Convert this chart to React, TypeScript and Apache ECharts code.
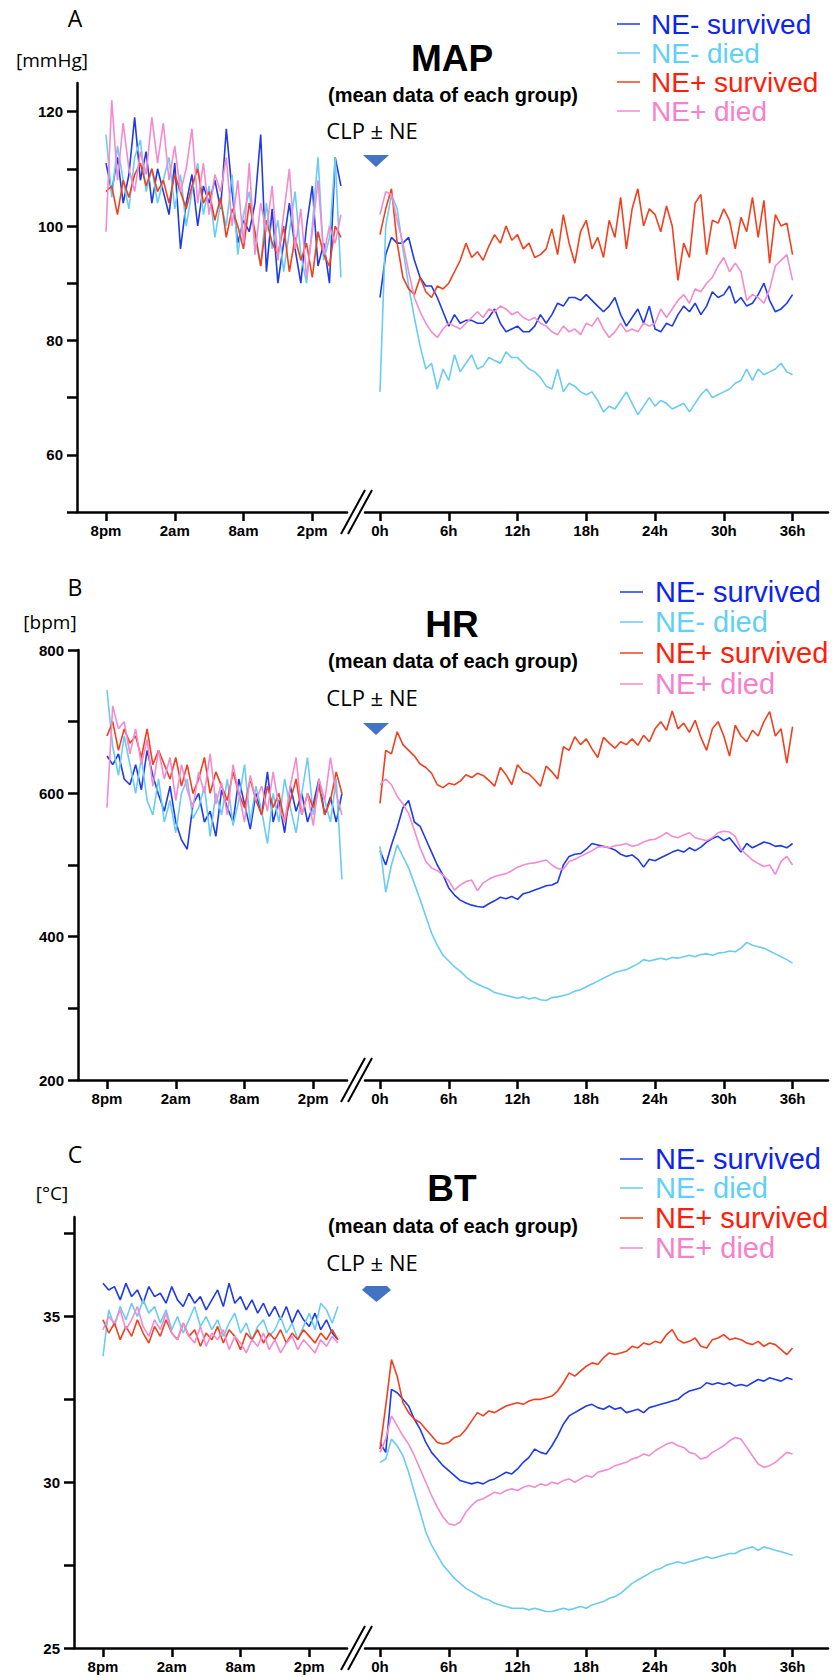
import React, { useEffect, useRef } from "react";
import * as echarts from "echarts";

// ---------- DATA ----------
const SERIES_NAMES = ["NE- survived", "NE- died", "NE+ survived", "NE+ died"];
const STEP_H = 0.5;
const BASE_TICKS = [0, 6, 12, 18];
const BASE_LABELS = ["8pm", "2am", "8am", "2pm"];
const POST_TICKS = [0, 6, 12, 18, 24, 30, 36];
const POST_LABELS = ["0h", "6h", "12h", "18h", "24h", "30h", "36h"];

// MAP (mmHg)
const mapBaseBlue = [111,106,112,104,109,119,108,113,104,110,106,102,111,96,104,109,100,107,104,108,103,117,106,97,101,99,104,116,92,103,90,97,104,96,90,100,107,93,97,90,112,107];
const mapBaseCyan = [116,105,114,108,103,112,115,106,110,104,108,112,103,109,100,106,111,102,107,98,104,100,109,95,102,106,98,93,104,96,101,92,99,106,95,90,100,112,94,98,112,91];
const mapBaseRed = [106,107,102,108,105,109,111,107,110,106,108,104,109,106,103,107,110,104,106,101,105,98,103,100,96,104,99,93,101,97,95,100,92,98,94,97,91,99,95,93,100,98];
const mapBasePink = [99,122,108,118,110,106,113,109,119,111,118,108,114,106,110,117,104,111,102,109,106,112,100,108,97,111,95,104,99,107,94,102,110,96,103,91,99,108,95,100,97,102];
const mapPostBlue = [87.5,95,98,97,97,98,94,91,89.5,89.5,87.5,85,82.5,84.5,83,83.5,83.5,83,83,84,85.5,83,81.5,82,82.5,81.5,81.5,82.5,84.5,83,84.5,86.5,86,87.5,87.5,87,88,87,86,85,86,87.5,84.5,82.5,84,85.5,83,86,82,81.5,83,82.5,84.5,86,85,86.5,84.5,86,88.5,87.5,88,89.5,86.5,87.5,86,86.5,88,90,87,85,85.5,86.5,88];
const mapPostCyan = [71,100,105.5,103,96,89.5,84,79,75,76,71.5,75,73,77.5,74.5,76,77.5,75,75.5,77,76.5,76,78,77,77,76,75,74.5,73.5,72,71.5,75,71,72.5,72,71,70.5,71,69.5,67.5,68.5,68,69.5,71,69,67,68.5,70,68.5,69.5,69,68,68.5,69,67.5,69,70.5,71.5,70,70.5,71,71.5,72.5,73,75,73,75,74,74.5,75,76,74.5,74];
const mapPostRed = [98.5,103,106.5,97,91,89,88,91,88.5,87.5,89.5,89,90,92,94,97,94.5,95.5,94,96.5,98.5,97,100,97.5,98.5,96,97,94.5,95,96,99.5,95,102,97,93.5,99,101,96,98,94.5,101,98,105,96,103,106.5,100,103,102,99,103.5,100,90.5,97,94.5,104,105.5,95,101,100.5,103,101,96,101.5,99,105,98,104.5,93.5,102,100,100.5,95];
const mapPostPink = [102,106,105.5,101,97,92,87.5,85,83,81.5,80.5,82,83,82.5,82,83,84,85,84,85.5,85,86,85.5,84.5,85,84,83.5,84,83,82.5,81.5,81,82.5,81.5,82,81,83,82.5,84,82,80.5,81.5,83,81.5,82,81.5,83,82.5,83,85.5,84,85.5,87,88,86.5,89,88.5,90,91,93,94.5,92,93.5,92,87,88,87.5,86.5,89,93,94,95,90.5];

// HR (bpm)
const hrBaseBlue = [652,640,655,620,612,640,605,660,625,598,575,610,560,535,522,585,600,560,575,540,605,580,560,620,585,550,600,570,630,560,590,545,610,575,600,560,585,620,570,595,560,600];
const hrBaseCyan = [744,665,625,680,640,600,650,590,570,620,560,590,545,600,620,565,580,610,540,600,570,620,555,590,640,560,610,575,530,600,560,620,580,545,600,650,570,610,590,560,620,480];
const hrBaseRed = [680,700,660,690,670,680,650,690,640,660,640,620,650,610,640,600,620,650,600,630,610,590,630,600,580,620,590,570,610,580,600,560,590,620,570,600,580,610,570,590,630,600];
const hrBasePink = [580,722,690,700,655,690,640,675,610,660,620,650,590,640,605,580,630,600,655,585,615,570,640,600,560,625,590,610,575,630,580,560,610,650,570,600,555,620,590,650,600,570];
const hrPostBlue = [520,500,528,552,580,590,560,554,536,518,500,486,468,458,451,447,444,442,441,446,450,455,453,456,452,460,462,465,468,471,472,476,500,512,515,516,522,530,528,526,524,521,515,512,514,508,497,508,506,510,514,518,521,518,524,520,525,532,537,540,534,538,528,518,530,524,528,532,530,526,527,524,530];
const hrPostCyan = [526,462,500,528,512,496,474,452,428,405,388,374,366,358,352,344,338,334,330,327,322,320,318,316,314,316,313,315,312,311,315,316,318,320,324,326,330,334,338,342,346,350,352,354,358,362,368,366,368,370,368,371,370,372,374,372,375,376,374,377,378,380,379,384,392,388,386,384,380,376,372,368,363];
const hrPostRed = [586,660,655,686,668,660,652,641,636,628,612,608,614,612,617,626,622,628,625,618,610,636,626,612,640,630,627,619,610,638,630,620,665,660,679,668,676,662,650,678,670,663,672,668,676,667,681,672,690,700,688,715,690,698,685,702,678,660,690,700,680,652,695,680,672,688,680,700,714,680,690,642,693];
const hrPostPink = [612,620,612,596,585,572,548,524,505,496,492,486,478,465,472,477,479,464,475,480,484,486,488,492,497,500,502,503,505,507,500,495,494,505,508,512,516,520,525,526,524,527,528,530,526,528,532,535,536,540,545,540,538,542,545,538,536,534,538,545,547,546,540,522,514,507,502,498,500,487,505,512,500];

// BT (°C)
const btBaseBlue = [36.0,35.8,35.9,35.5,36.0,35.6,35.8,35.4,35.9,35.6,35.7,35.4,35.9,35.5,35.3,35.7,35.4,35.6,35.2,35.5,35.8,35.3,36.0,35.4,35.6,35.2,35.5,35.1,35.4,35.0,35.3,34.9,35.3,34.8,35.2,34.9,34.7,35.1,34.6,34.9,34.5,34.3];
const btBaseCyan = [33.8,35.2,34.7,35.3,34.9,35.4,35.0,35.5,35.1,35.3,34.8,35.2,34.6,35.0,34.5,34.9,35.3,34.7,35.0,34.6,34.9,34.4,34.8,35.1,34.5,34.8,34.3,34.7,34.9,34.4,34.6,35.0,34.5,34.8,34.3,34.7,35.1,34.6,35.4,35.2,34.8,35.3];
const btBaseRed = [34.9,34.5,34.8,34.3,34.7,34.4,34.9,34.5,34.2,34.7,34.4,34.9,34.5,34.3,34.8,34.4,34.6,34.1,34.5,34.3,34.7,34.2,34.6,34.4,34.0,34.5,34.3,34.6,34.2,34.5,34.3,34.6,34.2,34.5,34.3,34.6,34.4,34.2,34.5,34.3,34.6,34.3];
const btBasePink = [34.6,35.0,34.8,35.2,34.6,34.9,35.3,34.7,34.4,34.9,34.6,35.1,34.5,34.3,34.8,34.4,34.2,34.7,34.1,34.5,34.3,34.6,34.0,34.4,34.2,33.9,34.3,34.1,34.5,34.0,34.3,33.9,34.2,34.4,34.0,34.3,34.1,33.9,34.3,34.1,34.4,34.2];
const btPostBlue = [31.2,30.9,32.8,32.7,32.5,32.3,31.9,31.6,31.2,30.9,30.7,30.5,30.35,30.2,30.05,30.0,29.95,30.0,29.95,30.05,30.1,30.2,30.3,30.25,30.4,30.6,30.75,31.0,30.9,30.85,31.1,31.4,31.75,32.0,32.1,32.2,32.3,32.35,32.25,32.2,32.3,32.2,32.25,32.1,32.15,32.2,32.1,32.25,32.3,32.35,32.4,32.45,32.5,32.65,32.75,32.8,32.85,33.0,32.95,33.0,32.95,33.0,32.9,32.95,32.9,33.0,33.1,33.05,33.15,33.1,33.05,33.15,33.1];
const btPostCyan = [30.6,30.7,31.3,31.1,30.8,30.3,29.7,29.1,28.5,28.1,27.8,27.5,27.3,27.1,26.95,26.8,26.7,26.6,26.5,26.45,26.35,26.3,26.25,26.2,26.2,26.2,26.15,26.2,26.15,26.1,26.1,26.15,26.2,26.15,26.2,26.25,26.2,26.3,26.35,26.4,26.5,26.55,26.65,26.8,26.95,27.05,27.15,27.25,27.35,27.4,27.5,27.55,27.6,27.55,27.6,27.65,27.7,27.75,27.7,27.75,27.8,27.85,27.85,27.95,28.0,28.05,27.95,28.05,28.0,27.95,27.9,27.85,27.8];
const btPostRed = [31.0,32.3,33.7,33.2,32.4,32.1,31.9,31.8,31.6,31.4,31.2,31.15,31.2,31.35,31.4,31.6,31.85,32.1,32.0,32.15,32.1,32.2,32.3,32.35,32.4,32.35,32.45,32.5,32.5,32.55,32.6,32.75,33.0,33.3,33.2,33.35,33.5,33.6,33.55,33.75,33.9,33.85,33.9,33.95,34.1,34.05,34.2,34.15,34.25,34.2,34.45,34.6,34.3,34.2,34.25,34.35,34.1,34.05,34.3,34.35,34.45,34.3,34.35,34.3,34.2,34.15,34.25,34.1,34.2,34.15,34.0,33.85,34.05];
const btPostPink = [30.9,31.3,32.0,31.7,31.4,31.15,30.8,30.4,30.0,29.6,29.25,28.95,28.75,28.7,28.8,29.1,29.3,29.45,29.5,29.6,29.7,29.65,29.75,29.8,29.75,29.85,29.9,29.85,29.95,29.9,30.0,29.95,30.05,30.1,30.0,30.1,30.2,30.15,30.3,30.35,30.4,30.5,30.55,30.6,30.7,30.75,30.85,30.8,30.95,31.05,31.15,31.2,31.1,31.05,30.9,30.85,30.7,30.75,30.9,31.0,31.1,31.25,31.35,31.3,31.05,30.8,30.55,30.45,30.5,30.6,30.75,30.9,30.85];

// ---------- STYLE / LAYOUT ----------
const LINE_COLORS = ["#1f3be6", "#6accf3", "#f2401e", "#f48ad0"];
const TEXT_COLORS = ["#0d24f0", "#5fd0f8", "#ff1e0a", "#f87fcc"];
const K = 11.46; // px per hour
const LEFT_END = 347;
const RIGHT_START = 365;
const RIGHT_END = 828;
const ZERO_X = 380;

const panels = [
  {
    letter: "A", title: "MAP", unit: "[mmHg]", axisX: 77, top: 83, bottom: 512,
    yMin: 50, yMax: 125, yTicks: [50, 60, 70, 80, 90, 100, 110, 120], yLabels: [60, 80, 100, 120],
    base: [mapBaseBlue, mapBaseCyan, mapBaseRed, mapBasePink],
    post: [mapPostBlue, mapPostCyan, mapPostRed, mapPostPink],
    letterY: 18, unitY: 60, unitX: 52, titleY: 58, meanY: 95, clpY: 130, triY: 155, bigTri: false,
    legendY: [24, 53, 82, 111], legendLineX: 617, legendTextX: 651, legendFont: 28,
  },
  {
    letter: "B", title: "HR", unit: "[bpm]", axisX: 78, top: 650, bottom: 1080,
    yMin: 200, yMax: 800, yTicks: [200, 300, 400, 500, 600, 700, 800], yLabels: [200, 400, 600, 800],
    base: [hrBaseBlue, hrBaseCyan, hrBaseRed, hrBasePink],
    post: [hrPostBlue, hrPostCyan, hrPostRed, hrPostPink],
    letterY: 587, unitY: 622, unitX: 50, titleY: 624, meanY: 661, clpY: 697, triY: 723, bigTri: false,
    legendY: [592, 622, 653, 684], legendLineX: 620, legendTextX: 655, legendFont: 29,
  },
  {
    letter: "C", title: "BT", unit: "[°C]", axisX: 74, top: 1217, bottom: 1648,
    yMin: 25, yMax: 38, yTicks: [25, 27.5, 30, 32.5, 35, 37.5], yLabels: [25, 30, 35],
    base: [btBaseBlue, btBaseCyan, btBaseRed, btBasePink],
    post: [btPostBlue, btPostCyan, btPostRed, btPostPink],
    letterY: 1154, unitY: 1193, unitX: 52, titleY: 1188, meanY: 1226, clpY: 1262, triY: 1287, bigTri: true,
    legendY: [1159, 1188, 1218, 1248], legendLineX: 620, legendTextX: 655, legendFont: 29,
  },
];

const ARIAL = '"Liberation Sans", Arial, Helvetica, sans-serif';
const CALIBRI = '"Open Sans", "Noto Sans", sans-serif';

function buildOption() {
  const grid: any[] = [];
  const xAxis: any[] = [];
  const yAxis: any[] = [];
  const series: any[] = [];
  const graphic: any[] = [];

  const axisLineStyle = { color: "#000", width: 2.5 };
  const labelStyle = { color: "#000", fontWeight: "bold", fontSize: 15, fontFamily: ARIAL };
  const centered = { align: "center", verticalAlign: "middle", textAlign: "center", textVerticalAlign: "middle" };

  panels.forEach((p, pi) => {
    const x0 = p.axisX + 29; // position of 8pm
    const h = p.bottom - p.top;
    const gL = pi * 2;
    const gR = pi * 2 + 1;
    grid.push({ left: p.axisX, top: p.top, width: LEFT_END - p.axisX, height: h });
    grid.push({ left: RIGHT_START, top: p.top, width: RIGHT_END - RIGHT_START, height: h });

    xAxis.push({
      type: "value", gridIndex: gL,
      min: (p.axisX - x0) / K, max: (LEFT_END - x0) / K,
      axisLine: { show: true, onZero: false, lineStyle: axisLineStyle },
      axisTick: { show: true, length: 9, lineStyle: axisLineStyle, customValues: BASE_TICKS },
      axisLabel: {
        ...labelStyle, margin: 11, customValues: BASE_TICKS,
        formatter: (v: number) => BASE_LABELS[BASE_TICKS.indexOf(Math.round(v))] ?? "",
      },
      splitLine: { show: false },
    });
    xAxis.push({
      type: "value", gridIndex: gR,
      min: (RIGHT_START - ZERO_X) / K, max: (RIGHT_END - ZERO_X) / K,
      axisLine: { show: true, onZero: false, lineStyle: axisLineStyle },
      axisTick: { show: true, length: 9, lineStyle: axisLineStyle, customValues: POST_TICKS },
      axisLabel: {
        ...labelStyle, margin: 11, customValues: POST_TICKS,
        formatter: (v: number) => POST_LABELS[POST_TICKS.indexOf(Math.round(v))] ?? "",
      },
      splitLine: { show: false },
    });

    yAxis.push({
      type: "value", gridIndex: gL, min: p.yMin, max: p.yMax,
      axisLine: { show: true, onZero: false, lineStyle: axisLineStyle },
      axisTick: { show: true, length: 10, lineStyle: axisLineStyle, customValues: p.yTicks },
      axisLabel: {
        ...labelStyle, margin: 14, customValues: p.yLabels,
        formatter: (v: number) => String(v),
      },
      splitLine: { show: false },
    });
    yAxis.push({ type: "value", gridIndex: gR, min: p.yMin, max: p.yMax, show: false, splitLine: { show: false } });

    SERIES_NAMES.forEach((name, si) => {
      const common = {
        type: "line", name, showSymbol: false, symbol: "none", silent: true,
        lineStyle: { color: LINE_COLORS[si], width: 1.6 },
        itemStyle: { color: LINE_COLORS[si] },
      };
      series.push({
        ...common, xAxisIndex: gL, yAxisIndex: gL,
        data: p.base[si].map((v, i) => [i * STEP_H, v]),
      });
      series.push({
        ...common, xAxisIndex: gR, yAxisIndex: gR,
        data: p.post[si].map((v, i) => [i * STEP_H, v]),
      });
    });

    // break marks on the x axis
    const ay = p.bottom;
    graphic.push({ type: "line", shape: { x1: 341, y1: ay + 22, x2: 365, y2: ay - 22 }, style: { stroke: "#000", lineWidth: 2 } });
    graphic.push({ type: "line", shape: { x1: 348, y1: ay + 22, x2: 372, y2: ay - 22 }, style: { stroke: "#000", lineWidth: 2 } });

    // panel letter and unit
    graphic.push({ type: "text", x: 75, y: p.letterY, style: { text: p.letter, font: `23px ${CALIBRI}`, fill: "#000", ...centered } });
    graphic.push({ type: "text", x: p.unitX, y: p.unitY, style: { text: p.unit, font: `19px ${CALIBRI}`, fill: "#000", ...centered } });

    // titles
    graphic.push({ type: "text", x: 452, y: p.titleY, style: { text: p.title, font: `bold 37px ${ARIAL}`, fill: "#000", ...centered } });
    graphic.push({ type: "text", x: 453, y: p.meanY, style: { text: "(mean data of each group)", font: `bold 20px ${ARIAL}`, fill: "#000", ...centered } });
    graphic.push({ type: "text", x: 372, y: p.clpY, style: { text: "CLP ± NE", font: `22px ${CALIBRI}`, fill: "#000", ...centered } });
    const t = p.triY;
    graphic.push({
      type: "polygon",
      shape: {
        points: p.bigTri
          ? [[366, t - 1], [387, t - 1], [391, t + 3], [376.5, t + 15], [362, t + 3]]
          : [[363, t], [389, t], [376, t + 12]],
      },
      style: { fill: "#4472c4" },
    });

    // legend
    SERIES_NAMES.forEach((name, si) => {
      const ly = p.legendY[si];
      graphic.push({ type: "line", shape: { x1: p.legendLineX, y1: ly, x2: p.legendLineX + 23, y2: ly }, style: { stroke: LINE_COLORS[si], lineWidth: 1.5 } });
      graphic.push({
        type: "text", x: p.legendTextX, y: ly,
        style: {
          text: name, font: `${p.legendFont}px ${ARIAL}`, lineHeight: 25, fill: TEXT_COLORS[si],
          align: "left", verticalAlign: "middle", textAlign: "left", textVerticalAlign: "middle",
        },
      });
    });
  });

  return {
    animation: false,
    backgroundColor: "#ffffff",
    grid, xAxis, yAxis, series, graphic,
  };
}

export default function App() {
  const ref = useRef<HTMLDivElement>(null);
  useEffect(() => {
    if (!ref.current) return;
    const chart = echarts.init(ref.current, undefined, { renderer: "svg" });
    chart.setOption(buildOption() as any);
    return () => chart.dispose();
  }, []);
  return (
    <div
      ref={ref}
      style={{ position: "absolute", left: 0, top: 0, width: 835, height: 1680, background: "#fff" }}
    />
  );
}
